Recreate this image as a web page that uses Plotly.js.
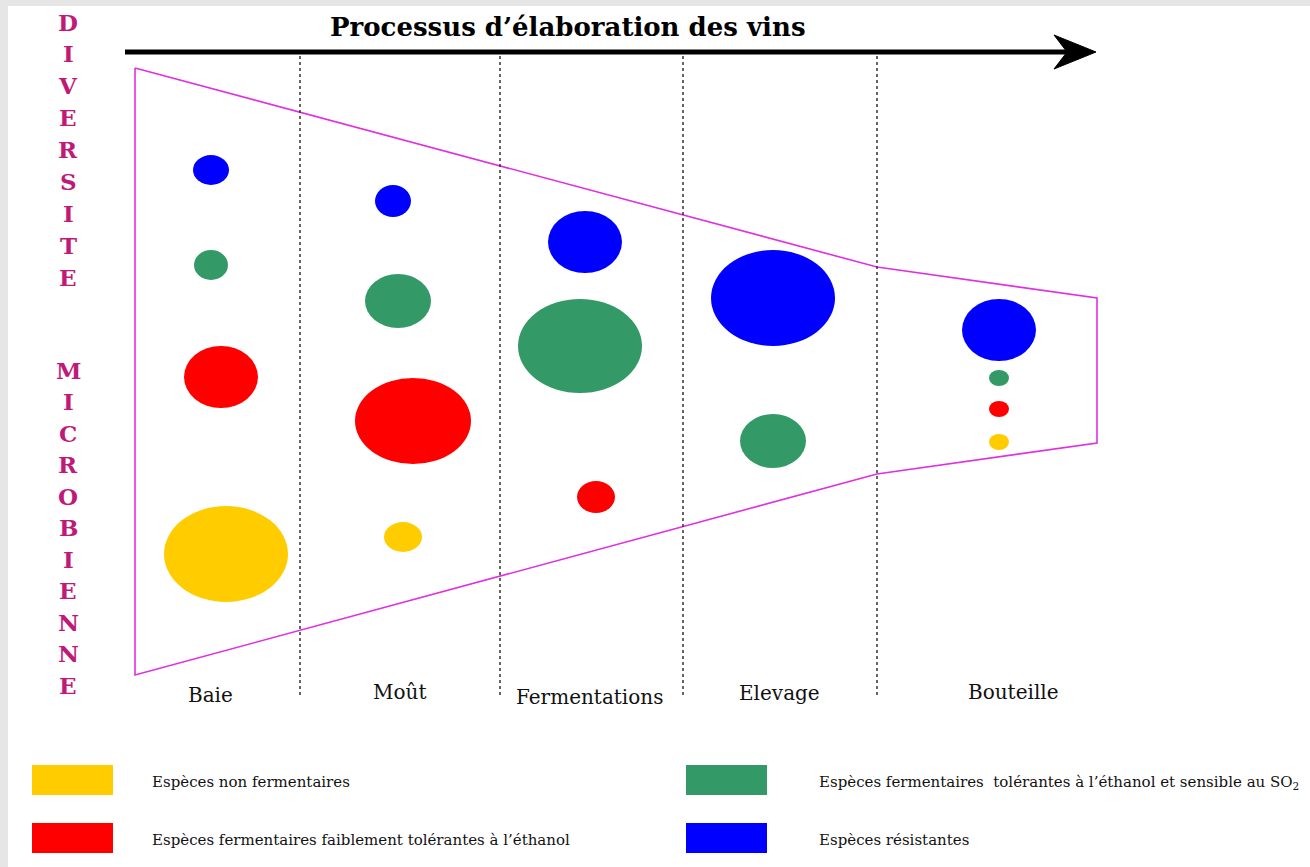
<!DOCTYPE html>
<html>
<head>
<meta charset="utf-8">
<script src="https://cdn.plot.ly/plotly-3.0.1.min.js"></script>
<style>html,body{margin:0;padding:0;background:#e6e6e6;}#chart{width:1310px;height:867px;}</style>
</head>
<body>
<div id="chart"></div>
<script>
// ---- data ----
const titleText = 'Processus d’élaboration des vins';
const sideWord1 = 'DIVERSITE';
const sideWord2 = 'MICROBIENNE';
const stages = ['Baie', 'Moût', 'Fermentations', 'Elevage', 'Bouteille'];
const stageLabelX = [210, 399, 589, 779, 1013];
const stageLabelY = [695, 692, 697, 693, 692];
const stageBounds = [300, 500, 683, 877];

// diversity envelope (outline)
const envelopeX = [135, 877, 1097, 1097, 877, 135, 135];
const envelopeY = [68, 267, 298, 443, 474, 675, 68];

const groupNames = [
  'Espèces non fermentaires',
  'Espèces fermentaires faiblement tolérantes à l’éthanol',
  'Espèces fermentaires  tolérantes à l’éthanol et sensible au SO<sub>2</sub>',
  'Espèces résistantes'
];
const groupColors = ['#ffcc00', '#ff0000', '#339966', '#0000ff'];

// bubbles per group: centre x, centre y, half width, half height
const yellowX = [226, 403, 999];
const yellowY = [554, 537, 442];
const yellowRX = [62, 19, 10];
const yellowRY = [48, 15, 8];

const redX = [221, 413, 596, 999];
const redY = [377, 421, 497, 409];
const redRX = [37, 58, 19, 10];
const redRY = [31, 43, 16, 8];

const greenX = [211, 398, 580, 773, 999];
const greenY = [265, 301, 346, 441, 378];
const greenRX = [17, 33, 62, 33, 10];
const greenRY = [15, 27, 47, 27, 8];

const blueX = [211, 393, 585, 773, 999];
const blueY = [170, 201, 242, 298, 330];
const blueRX = [18, 18, 37, 62, 37];
const blueRY = [15, 16, 31, 48, 31];

// ---- build figure ----
const serif = 'DejaVu Serif, serif';
const shapes = [];
const annotations = [];

// white picture area on grey page
shapes.push({type: 'rect', xref: 'x', yref: 'y', x0: 8, x1: 1310, y0: 6, y1: 867,
  fillcolor: '#ffffff', line: {width: 0}, layer: 'below'});

// dotted stage separators
stageBounds.forEach(b => shapes.push({type: 'line', xref: 'x', yref: 'y', x0: b, x1: b, y0: 56, y1: 695,
  line: {color: '#333333', width: 1.5, dash: 'dot'}}));

// process arrow
shapes.push({type: 'line', xref: 'x', yref: 'y', x0: 125, x1: 1068, y0: 52, y1: 52,
  line: {color: '#000000', width: 5}});
shapes.push({type: 'path', xref: 'x', yref: 'y', path: 'M1096,52 L1054,35 L1067,52 L1054,69 Z',
  fillcolor: '#000000', line: {color: '#000000', width: 1}});

// bubbles
const bubbleSets = [
  [yellowX, yellowY, yellowRX, yellowRY, groupColors[0]],
  [redX, redY, redRX, redRY, groupColors[1]],
  [greenX, greenY, greenRX, greenRY, groupColors[2]],
  [blueX, blueY, blueRX, blueRY, groupColors[3]]
];
bubbleSets.forEach(([xs, ys, rxs, rys, col]) => {
  xs.forEach((cx, i) => shapes.push({type: 'circle', xref: 'x', yref: 'y',
    x0: cx - rxs[i], x1: cx + rxs[i], y0: ys[i] - rys[i], y1: ys[i] + rys[i],
    fillcolor: col, line: {width: 0}}));
});

// legend boxes + labels
const legendBoxX = [32, 32, 686, 686];
const legendBoxY = [765, 823, 765, 823];
const legendTextX = [150, 150, 817, 817];
groupNames.forEach((name, i) => {
  shapes.push({type: 'rect', xref: 'x', yref: 'y', x0: legendBoxX[i], x1: legendBoxX[i] + 81,
    y0: legendBoxY[i], y1: legendBoxY[i] + 30, fillcolor: groupColors[i], line: {width: 0}});
  annotations.push({x: legendTextX[i], y: legendBoxY[i] + 17, xref: 'x', yref: 'y',
    text: name, showarrow: false, xanchor: 'left', yanchor: 'middle',
    font: {family: serif, size: 15, color: '#111111'}});
});

// title
annotations.push({x: 568, y: 27, xref: 'x', yref: 'y', text: '<b>' + titleText + '</b>', showarrow: false,
  xanchor: 'center', yanchor: 'middle', font: {family: serif, size: 26, color: '#000000'}});

// stage labels
stages.forEach((s, i) => annotations.push({x: stageLabelX[i], y: stageLabelY[i], xref: 'x', yref: 'y',
  text: s, showarrow: false, xanchor: 'center', yanchor: 'middle',
  font: {family: serif, size: 20, color: '#111111'}}));

// vertical side words
function sideWord(word, yStart, step) {
  word.split('').forEach((ch, i) => annotations.push({x: 68, y: yStart + i * step, xref: 'x', yref: 'y',
    text: '<b>' + ch + '</b>', showarrow: false, xanchor: 'center', yanchor: 'middle',
    font: {family: serif, size: 23, color: '#c01a78'}}));
}
sideWord(sideWord1, 22, 31.9);
sideWord(sideWord2, 370, 31.5);

const traces = [{
  type: 'scatter', mode: 'lines', x: envelopeX, y: envelopeY,
  line: {color: '#e030e0', width: 1.6}, hoverinfo: 'skip', showlegend: false
}];

const layout = {
  width: 1310, height: 867,
  margin: {l: 0, r: 0, t: 0, b: 0},
  paper_bgcolor: '#e6e6e6', plot_bgcolor: 'rgba(0,0,0,0)',
  xaxis: {range: [0, 1310], visible: false, fixedrange: true},
  yaxis: {range: [867, 0], visible: false, fixedrange: true},
  showlegend: false,
  shapes: shapes,
  annotations: annotations
};

Plotly.newPlot('chart', traces, layout, {displayModeBar: false, staticPlot: true});
</script>
</body>
</html>
